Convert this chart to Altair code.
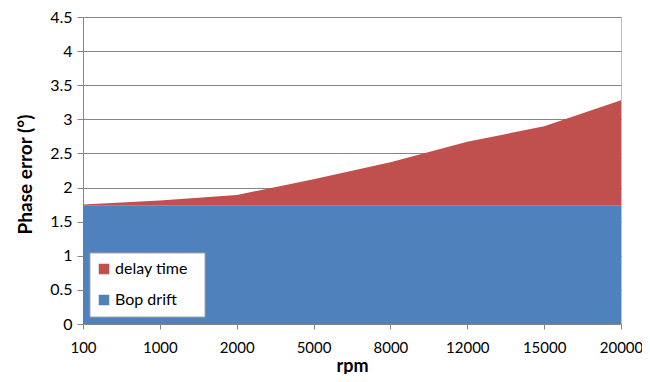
import altair as alt
import pandas as pd

rpm = ["100", "1000", "2000", "5000", "8000", "12000", "15000", "20000"]
bop_drift = [1.74, 1.74, 1.74, 1.74, 1.74, 1.74, 1.74, 1.74]
delay_time = [0.01, 0.07, 0.15, 0.38, 0.63, 0.93, 1.16, 1.54]
series_names = ["delay time", "Bop drift"]
series_colors = ["#C0504D", "#4F81BD"]
y_ticks = [0, 0.5, 1, 1.5, 2, 2.5, 3, 3.5, 4, 4.5]

rows = []
for i, r in enumerate(rpm):
    rows.append({"rpm": r, "series": "Bop drift", "value": bop_drift[i], "ord": 0})
    rows.append({"rpm": r, "series": "delay time", "value": delay_time[i], "ord": 1})
df = pd.DataFrame(rows)

FONT = "Lato"
W, H = 538, 307

area = alt.Chart(df).mark_area(opacity=1, interpolate="linear").encode(
    x=alt.X(
        "rpm:N",
        sort=rpm,
        scale=alt.Scale(type="point", padding=0),
        axis=alt.Axis(
            title="rpm", labelAngle=0, labelFontSize=15, labelFont=FONT,
            labelColor="#000", tickSize=5, labelPadding=11, grid=False,
            domainColor="#868686", tickColor="#868686", zindex=1,
            titleFontSize=18, titleFont=FONT, titleFontWeight="bold",
            titleColor="#000", titleY=42, titleBaseline="middle",
        ),
    ),
    y=alt.Y(
        "value:Q",
        stack="zero",
        scale=alt.Scale(domain=[0, 4.5], nice=False),
        axis=alt.Axis(
            values=y_ticks, format="~g", title="Phase error (°)",
            labelFontSize=16, labelFont=FONT, labelColor="#000",
            tickSize=6, labelPadding=5, grid=True, gridColor="#868686",
            domainColor="#868686", tickColor="#868686",
            titleFontSize=19, titleFont=FONT, titleFontWeight="bold",
            titleColor="#000", titleX=-58, titleY=157, titleAngle=-90,
            titleBaseline="middle", titleAlign="center",
        ),
    ),
    color=alt.Color(
        "series:N",
        scale=alt.Scale(domain=series_names, range=series_colors),
        legend=alt.Legend(
            title=None, orient="none", legendX=5, legendY=236,
            symbolType="square", symbolSize=110, symbolStrokeWidth=0,
            labelFontSize=16, labelFont=FONT, labelColor="#000",
            rowPadding=15, labelOffset=3, padding=8,
        ),
    ),
    order=alt.Order("ord:Q"),
)

box = alt.Chart(pd.DataFrame({"k": [0]})).mark_rect(
    fill="white", stroke="#A6A6A6", strokeWidth=1
).encode(
    x=alt.value(7), x2=alt.value(122), y=alt.value(236), y2=alt.value(300)
)

chart = alt.layer(area, box).properties(
    width=W, height=H,
    padding={"left": 75, "top": 9, "right": 21, "bottom": 50},
    autosize=alt.AutoSizeParams(type="none"),
).configure_view(stroke="#BFBFBF", strokeWidth=1)

chart.save("out.html", embed_options={"renderer": "svg", "actions": False})
